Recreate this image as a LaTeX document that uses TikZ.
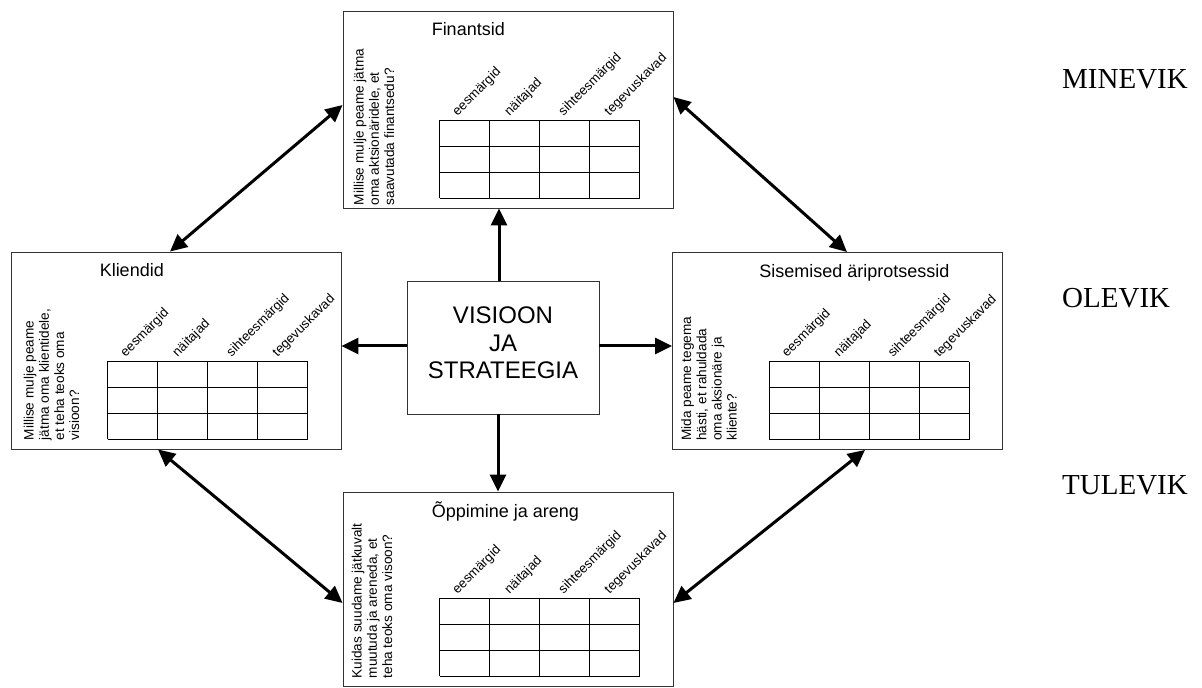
\documentclass[tikz,border=0pt]{standalone}
\usepackage{fontspec}
\setmainfont{Liberation Serif}
\setsansfont{Liberation Sans}
\usetikzlibrary{arrows.meta,calc}

\tikzset{
  persp/.style={draw=black!80, line width=0.9pt, minimum width=330pt, minimum height=197pt, inner sep=0pt},
  core/.style={draw=black!80, line width=0.9pt, minimum width=192pt, minimum height=133pt, inner sep=0pt},
  coretext/.style={font=\sffamily\fontsize{24}{27.5}\selectfont, align=center, inner sep=0pt},
  flow/.style={line width=3pt, -{Triangle[length=17pt,width=16pt]}},
  link/.style={line width=3pt, {Triangle[length=17pt,width=16pt]}-{Triangle[length=17pt,width=16pt]}},
  boxtitle/.style={font=\sffamily\fontsize{18}{20}\selectfont, anchor=base west, inner sep=0pt},
  question/.style={font=\sffamily\fontsize{13.6}{15.2}\selectfont, align=left, rotate=90,
    anchor=north west, inner sep=0pt},
  colhead/.style={font=\sffamily\fontsize{13.2}{15}\selectfont, rotate=45, anchor=base west, inner sep=0pt},
  era/.style={font=\fontsize{29}{32}\selectfont, anchor=base west, inner sep=0pt},
  cellline/.style={line width=0.9pt}
}

% Scorecard table: 4 columns x 3 rows with slanted column headings,
% placed in the lower right part of perspective box #1
\newcommand\bsctable[1]{%
  \begin{scope}[shift={($(#1.south west)+(97,10)$)}]
    \foreach \i in {0,50,100,150,200} \draw[cellline] (\i,0) -- (\i,78);
    \foreach \j in {0,26,52,78} \draw[cellline] (0,\j) -- (200,\j);
    \node[colhead] (#1-h1) at (18,82) {eesmärgid};
    \node[colhead] (#1-h2) at (70,82) {näitajad};
    \node[colhead] (#1-h3) at (124,82) {sihteesmärgid};
    \node[colhead] (#1-h4) at (170,82) {tegevuskavad};
  \end{scope}%
}

\begin{document}
\begin{tikzpicture}[x=1pt,y=1pt]
  \useasboundingbox (0,0) rectangle (1202,688);

  % the four perspectives and the core
  \node[persp] (fin) at (508,578.5) {};
  \node[persp] (kli) at (176,337.5) {};
  \node[persp] (pro) at (837.5,337) {};
  \node[persp, minimum height=194pt] (arg) at (508,99) {};
  \node[core] (vis) at (503,340.5) {};
  \node[coretext] (vis-t) at (503,345) {VISIOON\\JA\\STRATEEGIA};

  % titles
  \node[boxtitle] (fin-t) at ($(fin.north west)+(89,-25)$) {Finantsid};
  \node[boxtitle] (kli-t) at ($(kli.north west)+(89,-25)$) {Kliendid};
  \node[boxtitle] (pro-t) at ($(pro.north west)+(87,-25)$) {Sisemised äriprotsessid};
  \node[boxtitle] (arg-t) at ($(arg.north west)+(89,-26)$) {Õppimine ja areng};

  % guiding questions
  \node[question] (fin-q) at ($(fin.south west)+(11,3)$)
    {Millise mulje peame jätma\\oma aktsionäridele, et\\saavutada finantsedu?};
  \node[question] (kli-q) at ($(kli.south west)+(13,9)$)
    {Millise mulje peame\\jätma oma klientidele,\\et teha teoks oma\\visioon?};
  \node[question] (pro-q) at ($(pro.south west)+(9,9)$)
    {Mida peame tegema\\hästi, et rahuldada\\oma aksionäre ja\\kliente?};
  \node[question] (arg-q) at ($(arg.south west)+(9,8)$)
    {Kuidas suudame jätkuvalt\\muutuda ja areneda, et\\teha teoks oma visoon?};

  % tables
  \bsctable{fin}
  \bsctable{kli}
  \bsctable{pro}
  \bsctable{arg}

  % arrows from the core
  \draw[flow] ([xshift=-4]vis.north) -- ([xshift=-4]vis.north |- fin.south);
  \draw[flow] ([xshift=-5]vis.south) -- ([xshift=-5]vis.south |- arg.north);
  \draw[flow] ([yshift=1.5]vis.west) -- ([yshift=1.5]vis.west -| kli.east);
  \draw[flow] ([yshift=1.5]vis.east) -- ([yshift=1.5]vis.east -| pro.west);

  % links between neighbouring perspectives
  \draw[link] ([yshift=4.5]fin.west) -- ([xshift=-6]kli.north);
  \draw[link] ([yshift=12.5]fin.east) -- ([xshift=9.5]pro.north);
  \draw[link] ([xshift=-18]kli.south) -- ([yshift=-14]arg.west);
  \draw[link] ([xshift=27.5]pro.south) -- ([yshift=-14]arg.east);

  % time horizons
  \node[era] (past) at (1062,599) {MINEVIK};
  \node[era] (now) at (1062,380) {OLEVIK};
  \node[era] (future) at (1062,193) {TULEVIK};
\end{tikzpicture}
\end{document}
